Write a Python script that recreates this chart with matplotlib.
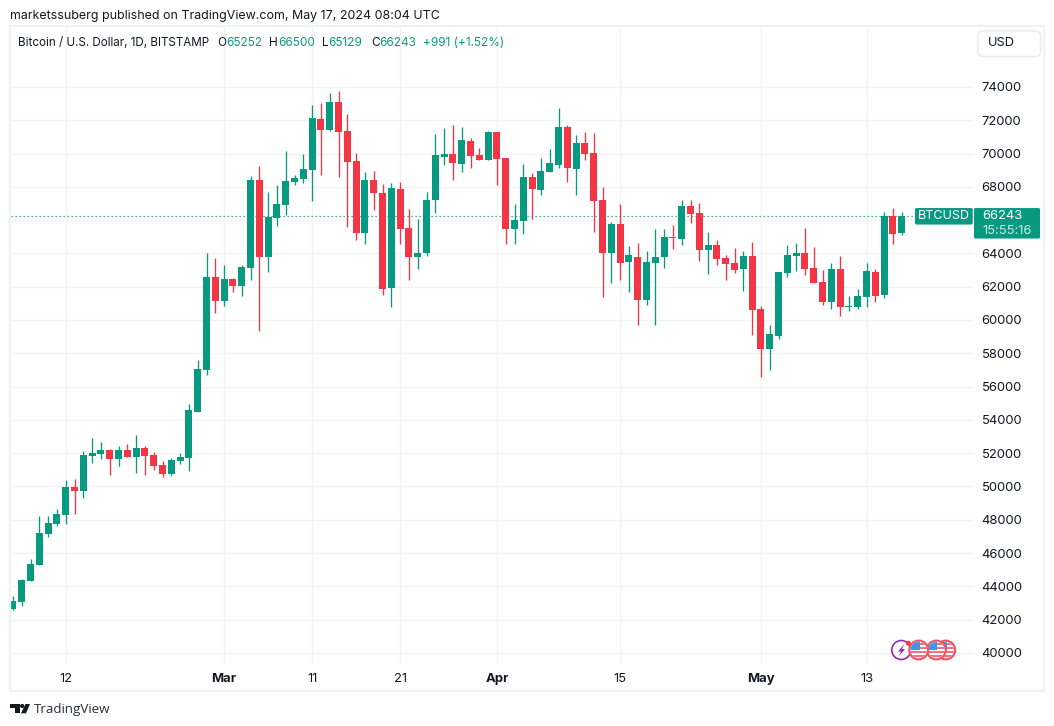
import numpy as np
import matplotlib
matplotlib.use("Agg")
import matplotlib.pyplot as plt
from matplotlib.patches import Circle, FancyBboxPatch, Polygon, Rectangle

plt.rcParams['font.family'] = ['Inter', 'DejaVu Sans']

# daily BTCUSD candles, Feb 6 to May 17 2024
opens = [42640, 43060, 44320, 45280, 47140, 47740, 48280, 49960, 49720, 51820,
         51940, 52180, 51640, 52180, 51760, 52300, 51880, 51280, 50740, 51520,
         51700, 54500, 57000, 62560, 61120, 62440, 62020, 63100, 68380, 63760,
         66100, 66880, 68260, 68440, 68980, 72100, 71440, 73120, 71380, 69520,
         65200, 68380, 67600, 61900, 67840, 65500, 63760, 64000, 67180, 69820,
         70000, 69340, 70780, 69940, 69580, 71320, 69700, 65440, 65920, 68560,
         67780, 68860, 69280, 71620, 69040, 70660, 70060, 67180, 64000, 65740,
         63460, 63810, 61230, 63450, 63810, 65010, 64890, 66870, 66450, 64230,
         64530, 63750, 63450, 63090, 63870, 60630, 58230, 59010, 62850, 63870,
         64050, 63150, 62310, 61110, 63090, 60750, 60750, 61410, 62910, 61530,
         66270, 65252]
highs = [43420, 44440, 45640, 48220, 48220, 48640, 50380, 50440, 52120, 52900,
         52660, 52240, 52420, 52540, 53080, 52420, 52060, 51520, 51700, 52000,
         54960, 57600, 64000, 63700, 63280, 62500, 63280, 68620, 69220, 67660,
         68080, 70180, 68680, 70000, 72940, 73060, 73660, 73780, 72400, 70060,
         68860, 68920, 68140, 68200, 68260, 66640, 66040, 67660, 71200, 71560,
         71740, 71620, 70960, 70360, 71380, 71320, 69700, 66940, 69340, 68800,
         69700, 70300, 72760, 71740, 71140, 71320, 71260, 67960, 65860, 66940,
         64420, 64650, 64170, 65490, 65490, 65730, 67230, 67230, 67050, 65310,
         64830, 63930, 64350, 64170, 64710, 60810, 59670, 62910, 64530, 64650,
         65550, 64410, 63030, 63450, 63870, 61470, 61890, 63450, 63090, 66510,
         66750, 66500]
lows = [42600, 42820, 44320, 45280, 46960, 47620, 47740, 48340, 49300, 51400,
        51640, 50680, 51220, 51760, 50800, 50680, 50980, 50560, 50620, 51340,
        50920, 54500, 56700, 60400, 60820, 61660, 61420, 62380, 59320, 62860,
        65620, 66280, 68080, 68200, 67120, 68680, 71380, 68560, 65560, 64780,
        64540, 66580, 61480, 60760, 64540, 62380, 63040, 63820, 66400, 69280,
        68380, 68860, 69100, 69580, 69580, 68080, 64540, 64540, 65140, 66040,
        67480, 68860, 69100, 68260, 67480, 69580, 65260, 61360, 62200, 62380,
        61660, 59670, 60870, 59670, 63150, 64290, 64530, 65850, 63570, 62790,
        63330, 62430, 62850, 61770, 59070, 56550, 57000, 58830, 62610, 62970,
        62730, 62250, 60870, 60630, 60210, 60510, 60630, 60750, 61110, 61350,
        64590, 65129]
closes = [43120, 44380, 45340, 47200, 47800, 48340, 49960, 49720, 51880, 52000,
          52180, 51640, 52180, 51760, 52300, 51820, 51220, 50740, 51580, 51760,
          54580, 57060, 62560, 61120, 62440, 62020, 63160, 68380, 63760, 66160,
          66940, 68320, 68500, 69040, 72160, 71440, 73120, 71320, 69460, 65200,
          68380, 67600, 61840, 67900, 65440, 63760, 64000, 67180, 69940, 70000,
          69400, 70840, 69880, 69580, 71320, 69640, 65440, 65980, 68560, 67840,
          68920, 69400, 71620, 69100, 70660, 70000, 67120, 64000, 65740, 63400,
          63880, 61230, 63510, 63810, 65010, 64950, 66870, 66390, 64230, 64530,
          63690, 63390, 63030, 63870, 60570, 58230, 59130, 62910, 63930, 64050,
          63090, 62250, 61110, 63090, 60750, 60810, 61470, 62970, 61470, 66270,
          65190, 66243]

# x tick labels and the candle each one sits under
time_ticks = [6, 24, 34, 44, 55, 69, 85, 97]
time_labels = ['12', 'Mar', '11', '21', 'Apr', '15', 'May', '13']
bold_labels = ['Mar', 'Apr', 'May']
price_ticks = list(range(40000, 76000, 2000))

UP = '#089981'
DOWN = '#F23645'
GRID = '#F2F3F5'
TEXT = '#131722'
W, H = 1054, 726

fig = plt.figure(figsize=(W / 100, H / 100), dpi=100, facecolor='white')

# chart pane, pixel box is x 11..974, y 27..663
ax = fig.add_axes([11 / W, 1 - 663 / H, 963 / W, 636 / H], zorder=1)
ax.set_xlim(-0.22, 109.21)
ax.set_ylim(39395, 77599)
for s in ax.spines.values():
    s.set_visible(False)
ax.set_axisbelow(True)
ax.grid(True, color=GRID, lw=1.0)
ax.set_xticks(time_ticks)
ax.set_xticklabels(time_labels, fontsize=9.4, color=TEXT)
for t in ax.get_xticklabels():
    if t.get_text() in bold_labels:
        t.set_fontweight('bold')
ax.yaxis.tick_right()
ax.set_yticks(price_ticks)
# the 66000 label sits under the last price tag in the reference
ax.set_yticklabels(['' if p == 66000 else str(p) for p in price_ticks], fontsize=9.4, color=TEXT)
ax.tick_params(axis='both', length=0)
ax.tick_params(axis='x', pad=7)
ax.tick_params(axis='y', pad=5.5)

x = np.arange(len(opens))
o, h, l, c = map(np.array, (opens, highs, lows, closes))
colors = [UP if cc >= oo else DOWN for oo, cc in zip(o, c)]

ax.axhline(c[-1], color=UP, lw=0.9, ls=(0, (1, 2.2)), zorder=1.5)
ax.vlines(x, l, h, colors=colors, lw=0.95, zorder=2)
ax.bar(x, np.abs(c - o), bottom=np.minimum(o, c), width=0.8, color=colors, lw=0, zorder=3)

# overlay in figure pixels for frame, header, tags and icons
ov = fig.add_axes([0, 0, 1, 1], zorder=2)
ov.set_xlim(0, W)
ov.set_ylim(H, 0)
ov.axis('off')
ov.patch.set_alpha(0)

ov.add_patch(Rectangle((10, 26), 1033.7, 664.5, fill=False, ec='#F0F1F6', lw=1.6))

ov.text(10, 15.5, 'marketssuberg published on TradingView.com, May 17, 2024 08:04 UTC',
        fontsize=8.95, color=TEXT, va='center')

ov.text(18, 42.5, 'Bitcoin / U.S. Dollar, 1D, BITSTAMP', fontsize=8.4, color=TEXT, va='center')
legend_items = [(217, 'O', TEXT), (226, '65252', UP), (269, 'H', TEXT), (278.3, '66500', UP),
                (322, 'L', TEXT), (328.7, '65129', UP),
                (371.3, 'C', TEXT), (379.3, '66243', UP), (422.7, '+991 (+1.52%)', UP)]
for px, s, col in legend_items:
    ov.text(px, 42.5, s, fontsize=8.5, color=col, va='center')

# USD button
ov.add_patch(FancyBboxPatch((978, 31), 62.5, 25.5, boxstyle='round,pad=0,rounding_size=5',
                            fc='white', ec='#E8EAF1', lw=1.0))
ov.text(987.5, 43.5, 'USD', fontsize=9.2, color=TEXT, va='center')

# last price tags, follow the close through the data transform
last_y = H - ax.transData.transform((0, c[-1]))[1]
ov.add_patch(FancyBboxPatch((915, last_y - 8), 57.7, 16.5, boxstyle='round,pad=0,rounding_size=1.5',
                            fc=UP, ec='none', zorder=3))
ov.text(943.8, last_y + 0.3, 'BTCUSD', fontsize=9.0, color='white', va='center', ha='center', zorder=4)
ov.add_patch(FancyBboxPatch((974, last_y - 8), 66, 30.5, boxstyle='round,pad=0,rounding_size=1.5',
                            fc=UP, ec='none', zorder=3))
ov.text(982.5, last_y + 0.3, '66243', fontsize=9.4, color='white', va='center', zorder=4)
ov.text(982.5, last_y + 15.2, '15:55:16', fontsize=9.4, color='#CDE9E3', va='center', zorder=4)


def flag(cx, cy, z):
    ring = Circle((cx, cy), 9.4, fc='white', ec='#F4505F', lw=1.5, zorder=z)
    ov.add_patch(ring)
    inner = Circle((cx, cy), 8.2, transform=ov.transData)
    for yy in (cy + 0.5, cy + 4.5):
        r = Rectangle((cx - 10, yy), 20, 2.2, fc='#F7707C', ec='none', zorder=z)
        ov.add_patch(r)
        r.set_clip_path(inner)
    for yy in (cy - 7.5, cy - 3.5):
        r = Rectangle((cx, yy), 10, 2.2, fc='#F7707C', ec='none', zorder=z)
        ov.add_patch(r)
        r.set_clip_path(inner)
    r = Rectangle((cx - 10, cy - 10), 11, 10, fc='#3E97EE', ec='none', zorder=z)
    ov.add_patch(r)
    r.set_clip_path(inner)


# event markers at the bottom right
flag(945.7, 650, 5)
flag(936.3, 650, 6)
ov.add_patch(Circle((901.3, 650), 9.5, fc='white', ec='#9C27B0', lw=1.2, zorder=5))
ov.add_patch(Polygon([[904.5, 644], [898, 651.5], [901, 651.5], [898.5, 656.5],
                      [905, 649], [902, 649]], fc='#9C27B0', ec='none', zorder=6))
flag(918.7, 650, 7)
ov.add_patch(Circle((908.3, 643.3), 2.5, fc='#F23645', ec='none', zorder=8))

# TradingView logo, bottom left
logo = '#131722'
ov.add_patch(Polygon([[10, 704], [19.5, 704], [19.5, 713.3], [15, 713.3], [15, 708], [10, 708]],
                     fc=logo, ec='none'))
ov.add_patch(Circle((22.2, 706), 2.1, fc=logo, ec='none'))
ov.add_patch(Polygon([[25.5, 704], [30, 704], [26, 713.3], [21, 713.3]], fc=logo, ec='none'))
ov.text(34, 709, 'TradingView', fontsize=9.6, color='#2A2E39', family=['Open Sans', 'DejaVu Sans'], va='center')

fig.savefig('out.png', dpi=100, facecolor='white')
